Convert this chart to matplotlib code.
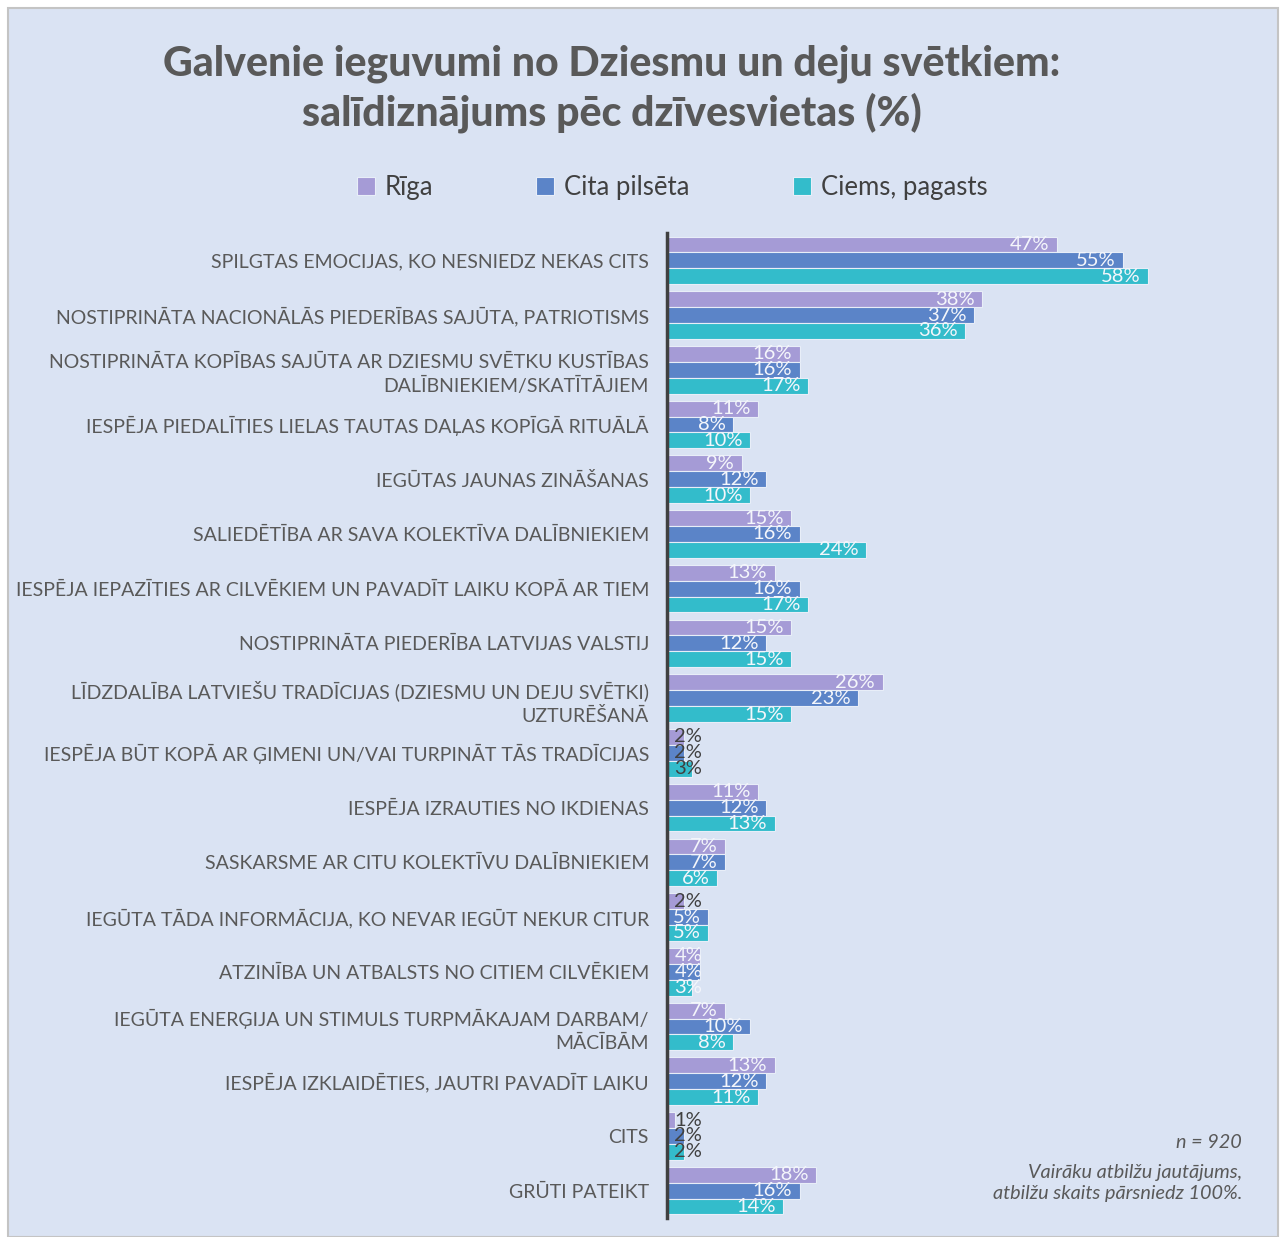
import matplotlib.pyplot as plt
import matplotlib.patches as mpatches
import numpy as np

# categories, top to bottom
categories = [
    "SPILGTAS EMOCIJAS, KO NESNIEDZ NEKAS CITS",
    "NOSTIPRINĀTA NACIONĀLĀS PIEDERĪBAS SAJŪTA, PATRIOTISMS",
    "NOSTIPRINĀTA KOPĪBAS SAJŪTA AR DZIESMU SVĒTKU KUSTĪBAS\nDALĪBNIEKIEM/SKATĪTĀJIEM",
    "IESPĒJA PIEDALĪTIES LIELAS TAUTAS DAĻAS KOPĪGĀ RITUĀLĀ",
    "IEGŪTAS JAUNAS ZINĀŠANAS",
    "SALIEDĒTĪBA AR SAVA KOLEKTĪVA DALĪBNIEKIEM",
    "IESPĒJA IEPAZĪTIES AR CILVĒKIEM UN PAVADĪT LAIKU KOPĀ AR TIEM",
    "NOSTIPRINĀTA PIEDERĪBA LATVIJAS VALSTIJ",
    "LĪDZDALĪBA LATVIEŠU TRADĪCIJAS (DZIESMU UN DEJU SVĒTKI)\nUZTURĒŠANĀ",
    "IESPĒJA BŪT KOPĀ AR ĢIMENI UN/VAI TURPINĀT TĀS TRADĪCIJAS",
    "IESPĒJA IZRAUTIES NO IKDIENAS",
    "SASKARSME AR CITU KOLEKTĪVU DALĪBNIEKIEM",
    "IEGŪTA TĀDA INFORMĀCIJA, KO NEVAR IEGŪT NEKUR CITUR",
    "ATZINĪBA UN ATBALSTS NO CITIEM CILVĒKIEM",
    "IEGŪTA ENERĢIJA UN STIMULS TURPMĀKAJAM DARBAM/\nMĀCĪBĀM",
    "IESPĒJA IZKLAIDĒTIES, JAUTRI PAVADĪT LAIKU",
    "CITS",
    "GRŪTI PATEIKT",
]

series_names = ["Rīga", "Cita pilsēta", "Ciems, pagasts"]
riga = [47, 38, 16, 11, 9, 15, 13, 15, 26, 2, 11, 7, 2, 4, 7, 13, 1, 18]
cita = [55, 37, 16, 8, 12, 16, 16, 12, 23, 2, 12, 7, 5, 4, 10, 12, 2, 16]
ciems = [58, 36, 17, 10, 10, 24, 17, 15, 15, 3, 13, 6, 5, 3, 8, 11, 2, 14]

colors = ["#a59bd6", "#5b84c8", "#33bccb"]
bg = "#dae3f3"
grey = "#595959"

plt.rcParams['font.family'] = ['Lato', 'DejaVu Sans']

fig = plt.figure(figsize=(12.8, 12.37), dpi=100)
fig.patch.set_facecolor("white")
W, H = 1280, 1237
fig.patches.append(mpatches.Rectangle((8 / W, 0), 1270 / W, 1229 / H, transform=fig.transFigure,
                                      facecolor=bg, edgecolor="#c4c4c4", lw=1.5, zorder=-10))

ax = fig.add_axes([667 / W, 1 - 1218 / H, 533 / W, 985 / H])
ax.set_facecolor("none")

y = np.arange(len(categories))
bh = 0.29
for i, (vals, c) in enumerate(zip([riga, cita, ciems], colors)):
    yy = y + (i - 1) * bh
    ax.barh(yy, vals, height=bh, color=c, edgecolor="#e8eef8", linewidth=0.8, label=series_names[i])
    for j, (yv, v) in enumerate(zip(yy, vals)):
        dark = v <= 2 or (v == 3 and j == 9)
        tc = "#404040" if dark else "#f4f6fb"
        if v < 5:
            ax.text(0.9, yv, f"{v}%", ha="left", va="center", color=tc, fontsize=14.5)
        else:
            ax.text(v - 0.9, yv, f"{v}%", ha="right", va="center", color=tc, fontsize=14.5)

ax.set_xlim(0, 64.3)
ax.set_ylim(len(categories) - 0.5, -0.5)
ax.set_xticks([])
ax.set_yticks(y)
ax.set_yticklabels(categories, fontsize=14, color=grey, linespacing=1.4)
ax.tick_params(axis="y", length=0, pad=13)
for s in ["top", "right", "bottom"]:
    ax.spines[s].set_visible(False)
ax.spines["left"].set_color("#404040")
ax.spines["left"].set_linewidth(2.5)

fig.text(612 / W, 1 - 89 / H, "Galvenie ieguvumi no Dziesmu un deju svētkiem:\nsalīdiznājums pēc dzīvesvietas (%)",
         ha="center", va="center", fontsize=29.5, fontweight="black", color=grey, linespacing=1.27)

fig.legend(loc="center", bbox_to_anchor=(672 / W, 1 - 187 / H), ncol=3, frameon=False,
           fontsize=18.5, labelcolor="#404040", handlelength=0.7, handleheight=0.7,
           handletextpad=0.4, columnspacing=4.0)

fig.text(1242 / W, 1 - 1143 / H, "n = 920", ha="right", va="center", fontsize=14.3,
         style="italic", color=grey)
fig.text(1242 / W, 1 - 1183 / H, "Vairāku atbilžu jautājums,\natbilžu skaits pārsniedz 100%.",
         ha="right", va="center", fontsize=14.3, style="italic", color=grey, linespacing=1.35)

fig.savefig("out.png", dpi=100, facecolor=fig.get_facecolor())
